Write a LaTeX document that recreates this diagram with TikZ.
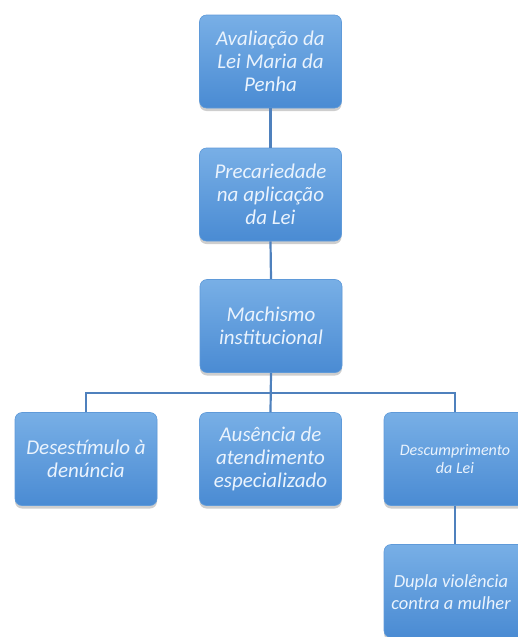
\documentclass[tikz,border=0pt]{standalone}
\usepackage{fontspec}
\setmainfont{Carlito}
\usetikzlibrary{shadows}

\definecolor{boxtop}{HTML}{78AFE6}
\definecolor{boxbot}{HTML}{4A8BD3}
\definecolor{boxedge}{HTML}{5F9AD9}
\definecolor{boxtext}{HTML}{EAF3FD}
\definecolor{linkcol}{HTML}{4F81BD}

\begin{document}
\begin{tikzpicture}[x=1pt,y=-1pt,
  box/.style={rounded corners=7pt, minimum width=142pt, minimum height=93pt,
    top color=boxtop, bottom color=boxbot, draw=boxedge, line width=0.6pt,
    text=boxtext, align=center, inner sep=2pt,
    font=\itshape\fontsize{21}{23}\selectfont,
    drop shadow={shadow xshift=0pt, shadow yshift=-3pt, opacity=0.35, fill=black!55}},
  smalltext/.style={font=\itshape\fontsize{16}{17.5}\selectfont},
  boxlabel/.style={text=boxtext, align=center, inner sep=0pt,
    font=\itshape\fontsize{18.5}{21.5}\selectfont},
  link/.style={draw=linkcol, line width=2.2pt}]

\useasboundingbox (0,0) rectangle (518,637);
\clip (0,0) rectangle (518,637);

% top chain
\node[box] (aval) at (270.5,61.5) {Avaliação da\\Lei Maria da\\Penha};
\node[box] (prec) at (270.5,194.5) {Precariedade\\na aplicação\\da Lei};
\node[box] (mach) at (271,326) {Machismo\\institucional};

% second level
\node[box] (dese) at (86,459) {Desestímulo à\\denúncia};
\node[box] (ause) at (270.5,459) {Ausência de\\atendimento\\especializado};
\node[box, smalltext] (desc) at (455,459) {Descumprimento\\da Lei};

% last box runs past the right edge, so its text sits a little left of centre
\node[box] (dupl) at (455,591) {};
\node[boxlabel] (dupltext) at (451,592) {Dupla violência\\contra a mulher};

\coordinate (bus) at (270.5,393);

% connectors
\draw[link] (aval.south) -- (prec.north);
\draw[link] (prec.south) -- (mach.north);
\draw[link] (mach.south) -- (ause.north);
\draw[link] (dese.north) |- (bus) -| (desc.north);
\draw[link] (desc.south) -- (dupl.north);
\end{tikzpicture}
\end{document}
